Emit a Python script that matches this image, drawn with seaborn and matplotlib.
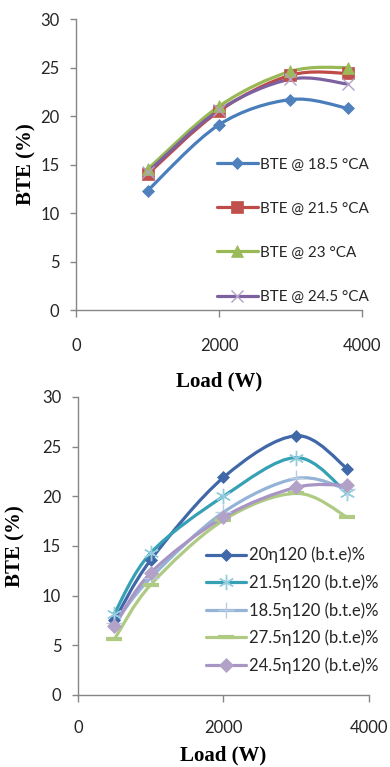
import numpy as np
import pandas as pd
import matplotlib
matplotlib.use("Agg")
import matplotlib.pyplot as plt
from matplotlib.path import Path
from matplotlib.patches import PathPatch
from matplotlib.lines import Line2D
import seaborn as sns

# ---------------- data ----------------
top_load = [1000, 2000, 3000, 3800]
top_bte_185 = [12.3, 19.1, 21.7, 20.8]
top_bte_215 = [14.0, 20.5, 24.2, 24.4]
top_bte_23 = [14.5, 21.0, 24.6, 25.0]
top_bte_245 = [14.2, 20.6, 23.8, 23.3]
top_labels = ["BTE @ 18.5 °CA", "BTE @ 21.5 °CA", "BTE @ 23 °CA", "BTE @ 24.5 °CA"]

bot_load = [500, 1000, 2000, 3000, 3700]
bot_20 = [7.5, 13.6, 21.9, 26.1, 22.8]
bot_215 = [8.2, 14.3, 20.0, 23.9, 20.3]
bot_185 = [7.2, 11.8, 18.4, 21.8, 20.7]
bot_275 = [5.6, 11.1, 17.6, 20.3, 17.9]
bot_245 = [6.9, 12.3, 17.9, 20.9, 21.1]
bot_labels = ["20η120 (b.t.e)%", "21.5η120 (b.t.e)%", "18.5η120 (b.t.e)%",
              "27.5η120 (b.t.e)%", "24.5η120 (b.t.e)%"]

y_ticks = [0, 5, 10, 15, 20, 25, 30]
x_ticks = [0, 2000, 4000]

# ---------------- style ----------------
sns.set_theme(style="white")
plt.rcParams["font.family"] = ["Lato", "DejaVu Sans"]
GRAY = "#868686"
TXT = "#262626"


def smooth_path(xs, ys):
    """Excel-like smooth line as cubic Bezier path through the data points."""
    P = np.column_stack([xs, ys]).astype(float)
    n = len(P)
    verts = [P[0]]
    codes = [Path.MOVETO]
    for i in range(n - 1):
        p_prev = P[i - 1] if i > 0 else P[i]
        p_next2 = P[i + 2] if i + 2 < n else P[i + 1]
        c1 = P[i] + (P[i + 1] - p_prev) / 6.0
        c2 = P[i + 1] - (p_next2 - P[i]) / 6.0
        verts += [c1, c2, P[i + 1]]
        codes += [Path.CURVE4] * 3
    return Path(verts, codes)


def draw_series(ax, xs, ys, color, marker, mcolor, ms, mew, mec):
    patch = PathPatch(smooth_path(xs, ys), facecolor="none", edgecolor=color,
                      lw=2.3, capstyle="round", joinstyle="round", zorder=2)
    ax.add_patch(patch)
    df = pd.DataFrame({"x": xs, "y": ys})
    sns.lineplot(data=df, x="x", y="y", ax=ax, linestyle="none", marker=marker,
                 markersize=ms, color=mcolor, markeredgecolor=mec,
                 markeredgewidth=mew, zorder=3, legend=False)


def style_axes(ax, ylabel_x, xpad, xlabelpad):
    ax.set_xlim(0, 4000)
    ax.set_ylim(0, 30)
    ax.set_xticks(x_ticks)
    ax.set_yticks(y_ticks)
    ax.set_xticklabels([str(v) for v in x_ticks])
    ax.set_yticklabels([str(v) for v in y_ticks])
    for s in ["top", "right"]:
        ax.spines[s].set_visible(False)
    for s in ["left", "bottom"]:
        ax.spines[s].set_color(GRAY)
        ax.spines[s].set_linewidth(1.0)
    ax.tick_params(axis="y", direction="out", length=4, width=1, color=GRAY,
                   pad=8, labelsize=12, labelcolor=TXT, left=True)
    ax.tick_params(axis="x", direction="out", length=5, width=1, color=GRAY,
                   pad=xpad, labelsize=12, labelcolor=TXT, bottom=True)
    ax.set_xlabel("Load (W)", fontfamily="Liberation Serif", fontweight="bold",
                  fontsize=15, color="black", labelpad=xlabelpad)
    ax.set_ylabel("BTE (%)", fontfamily="Liberation Serif", fontweight="bold",
                  fontsize=15, color="black")
    ax.yaxis.set_label_coords(ylabel_x, 0.5)
    ax.grid(False)
    ax.set_facecolor("white")


fig = plt.figure(figsize=(3.9, 7.67), dpi=100)
fig.patch.set_facecolor("white")

# ---------------- top chart ----------------
ax1 = fig.add_axes([0.195, 0.5958, 0.733, 0.3794])
top_series = [
    (top_bte_185, "#4A7EBB", "D", "#4F81BD", 6.5, 0.5, "#4F81BD"),
    (top_bte_215, "#BE4B48", "s", "#C0504D", 8.5, 0.5, "#C0504D"),
    (top_bte_23, "#98B954", "^", "#9BBB59", 9, 0.5, "#9BBB59"),
    (top_bte_245, "#7D60A0", "x", "#B3A2C7", 8, 1.0, "#B3A2C7"),
]
handles = []
for (vals, c, m, mc, ms, mew, mec), lab in zip(top_series, top_labels):
    draw_series(ax1, top_load, vals, c, m, mc, ms, mew, mec)
    handles.append(Line2D([], [], color=c, lw=2.3, marker=m, markersize=ms,
                          markerfacecolor=mc, markeredgecolor=mec,
                          markeredgewidth=mew, label=lab))
style_axes(ax1, -0.14, 15, 13)
ax1.legend(handles=handles, loc="upper left", bbox_to_anchor=(0.465, 0.55),
           frameon=False, fontsize=11, labelspacing=1.97, handlelength=2.7,
           handletextpad=0.15, borderpad=0, labelcolor=TXT)

# ---------------- bottom chart ----------------
ax2 = fig.add_axes([0.2, 0.0939, 0.746, 0.3885])
bot_series = [
    (bot_20, "#4068A8", "D", "#4068A8", 6.5, 0.5, "#4068A8"),
    (bot_215, "#36A0B5", (6, 2, 0), "#93CDDD", 11, 1.0, "#93CDDD"),
    (bot_185, "#95B3D7", "+", "#95B3D7", 11, 1.0, "#B9CDE5"),
    (bot_275, "#AFCA83", "_", "#AFCA83", 12, 3.0, "#AFCA83"),
    (bot_245, "#A895C4", "D", "#B3A2C7", 7.5, 0.5, "#B3A2C7"),
]
handles = []
for (vals, c, m, mc, ms, mew, mec), lab in zip(bot_series, bot_labels):
    draw_series(ax2, bot_load, vals, c, m, mc, ms, mew, mec)
    handles.append(Line2D([], [], color=c, lw=2.3, marker=m, markersize=ms,
                          markerfacecolor=mc, markeredgecolor=mec,
                          markeredgewidth=mew, label=lab))
style_axes(ax2, -0.18, 13, 7)
ax2.legend(handles=handles, loc="upper left", bbox_to_anchor=(0.41, 0.525),
           frameon=False, fontsize=12, labelspacing=0.66, handlelength=2.4,
           handletextpad=0.2, borderpad=0, labelcolor=TXT)

fig.savefig("out.png", dpi=100, facecolor="white")
